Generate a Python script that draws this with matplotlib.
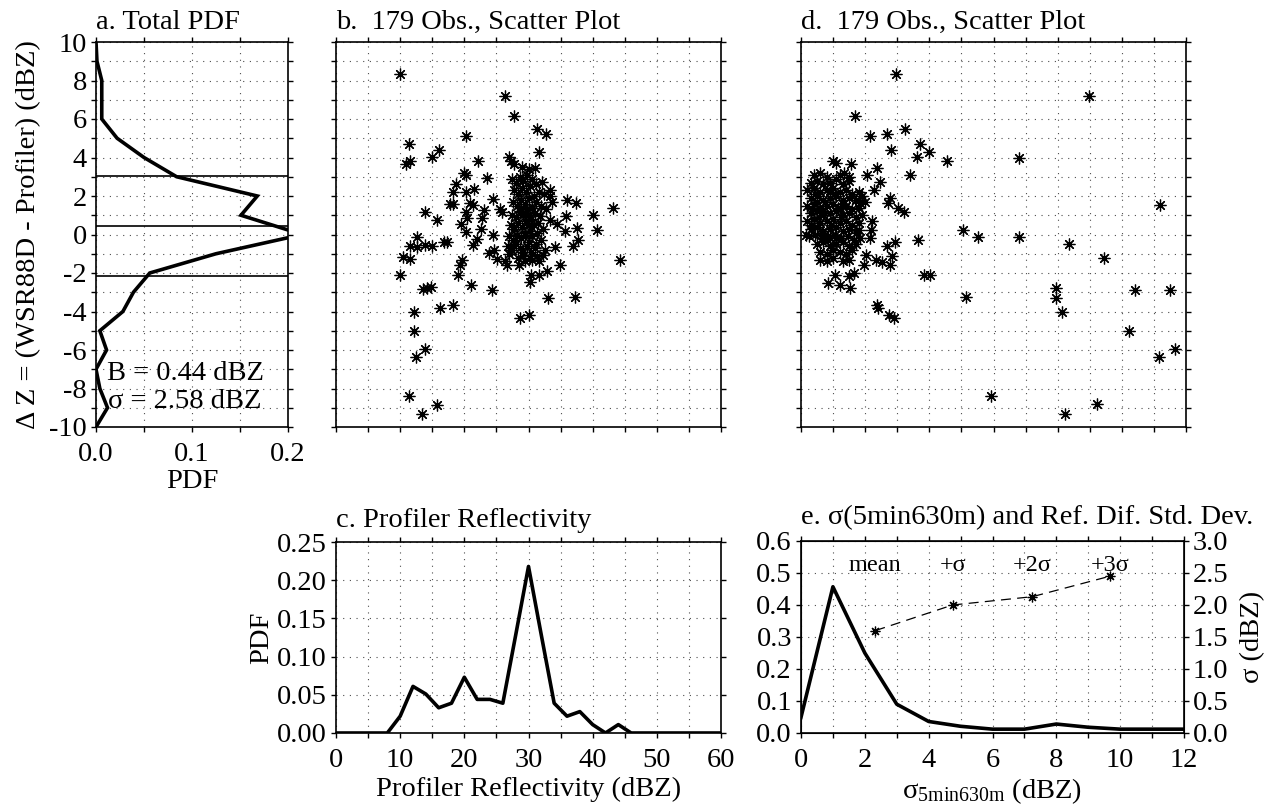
import matplotlib
matplotlib.use('Agg')
import matplotlib.pyplot as plt
from matplotlib.ticker import MultipleLocator, FuncFormatter

plt.rcParams['font.family'] = ['Liberation Serif', 'DejaVu Serif']
plt.rcParams['mathtext.fontset'] = 'custom'
plt.rcParams['mathtext.rm'] = 'Liberation Serif'
plt.rcParams['mathtext.default'] = 'rm'

# ---------------- data ----------------
# a. total PDF of reflectivity difference
dz_bins = [-10, -9, -8, -7, -6, -5, -4, -3, -2, -1, 0, 1, 2, 3, 4, 5, 6, 7, 8, 9, 10]
pdf_dz = [0.0, 0.012, 0.004, 0.0, 0.011, 0.004, 0.028, 0.039, 0.056, 0.125, 0.215,
          0.151, 0.168, 0.084, 0.05, 0.022, 0.006, 0.006, 0.006, 0.001, 0.0]
bias = 0.44
sigma = 2.58
bias_lines = [bias + sigma, bias, bias - sigma]

# c. profiler reflectivity PDF
refl_bins = [0, 2, 4, 6, 8, 10, 12, 14, 16, 18, 20, 22, 24, 26, 28, 30, 32, 34, 36, 38, 40,
             42, 44, 46, 48, 50, 52, 54, 56, 58, 60]
pdf_refl = [0, 0, 0, 0, 0, 0.022, 0.061, 0.051, 0.033, 0.039, 0.073, 0.044, 0.044, 0.039,
            0.128, 0.218, 0.128, 0.039, 0.022, 0.028, 0.011, 0.0, 0.011, 0, 0, 0, 0, 0, 0, 0, 0]

# e. PDF of sigma_5min630m and std dev of reflectivity difference
sig_bins = [0, 1, 2, 3, 4, 5, 6, 7, 8, 9, 10, 11, 12]
pdf_sig = [0.049, 0.457, 0.25, 0.09, 0.036, 0.021, 0.012, 0.012, 0.028, 0.018, 0.012, 0.012, 0.012]
sig_thresh = [2.33, 4.75, 7.25, 9.68]
std_dev = [1.60, 2.00, 2.13, 2.45]
thresh_labels = ['mean', '+σ', '+2σ', '+3σ']

# b. scatter: profiler reflectivity vs delta Z
b_refl = [10.0, 26.3, 27.8, 31.4, 32.7, 20.2, 11.3, 31.6, 16.1, 14.9, 10.9, 11.6, 22.2, 26.9, 27.2,
          27.7, 31.0, 19.9, 20.3, 23.5, 18.7, 18.3, 20.2, 21.5, 17.8, 18.3, 20.9, 21.3, 24.5, 25.6,
          25.8, 23.0, 20.2, 20.4, 13.9, 15.7, 19.5, 22.7, 22.6, 20.3, 24.4, 12.6, 11.6, 12.6, 13.9,
          15.0, 16.8, 17.3, 21.4, 21.9, 10.5, 11.6, 10.0, 19.6, 19.4, 19.0, 21.1, 24.3, 13.6, 14.2,
          14.8, 16.2, 18.2, 12.1, 12.1, 13.9, 12.4, 11.3, 15.7, 13.4, 28.6, 30.1, 33.1, 37.2, 34.9,
          44.3, 43.1, 40.0, 40.7, 36.0, 37.4, 35.8, 37.5, 35.7, 37.7, 36.9, 34.2, 32.9, 30.4, 31.6,
          30.3, 28.5, 29.1, 26.6, 26.4, 25.1, 24.6, 23.9, 27.3, 30.6, 31.3, 32.2, 33.4, 33.3, 33.7,
          32.1, 31.8, 33.4, 34.4,
          27.5, 28.0, 28.6, 29.2, 29.8, 30.5, 31.2,
          27.8, 28.4, 29.0, 29.6, 30.2, 30.8, 31.6, 32.4,
          27.6, 28.2, 28.8, 29.4, 30.0, 30.6, 31.2, 32.0, 32.8,
          27.4, 28.0, 28.6, 29.2, 29.8, 30.4, 31.0, 31.5,
          27.2, 27.8, 28.4, 29.0, 29.6, 30.2, 30.8, 31.4, 32.2,
          27.0, 27.6, 28.2, 28.8, 29.4, 30.0, 30.6, 31.2, 32.0,
          26.8, 27.4, 28.0, 28.6, 29.2, 29.8, 30.4, 31.0, 32.6,
          28.4, 29.5, 30.2, 31.6, 27.0,
          29.0, 30.0, 29.5, 29.9, 28.9, 30.1]
b_dz = [8.36, 7.18, 6.17, 5.48, 5.24, 5.10, 4.72, 4.29, 4.41, 4.03, 3.68, 3.82, 3.82, 4.03, 3.80,
        3.66, 3.45, 3.19, 3.11, 2.94, 2.64, 2.21, 2.21, 2.38, 1.60, 1.60, 1.64, 1.55, 1.84, 1.32,
        1.17, 1.29, 1.17, 0.86, 1.17, 0.74, 0.56, 0.86, 0.29, 0.13, -0.04, -0.13, -0.61, -0.65, -0.53,
        -0.61, -0.41, -0.39, -0.56, -0.23, -1.19, -1.27, -2.09, -1.31, -1.57, -2.10, -2.61, -2.87, -2.81, -2.78,
        -2.73, -3.80, -3.65, -4.04, -5.00, -5.95, -6.36, -8.41, -8.84, -9.32, -4.34, -4.16, -3.30, -3.26, -1.60,
        -1.31, 1.38, 1.00, 0.22, 1.81, 1.64, 0.94, 0.34, 0.20, -0.27, -0.58, -0.65, -1.91, -2.09, -2.09,
        -2.48, -1.57, -1.13, -1.60, -1.39, -1.26, -0.79, -0.96, -0.79, -1.31, -1.13, -1.05, 2.33, 1.98, 1.69,
        2.71, 0.94, 0.77, 0.56,
        2.9, 2.7, 3.0, 2.8, 3.1, 2.9, 2.6,
        2.3, 2.1, 2.4, 2.2, 2.5, 2.0, 2.2, 2.1,
        1.7, 1.5, 1.8, 1.6, 1.9, 1.4, 1.7, 1.5, 1.3,
        1.0, 0.9, 1.2, 1.0, 1.3, 0.8, 1.1, 0.6,
        0.5, 0.3, 0.6, 0.4, 0.7, 0.2, 0.5, 0.1, 0.3,
        -0.1, -0.3, 0.0, -0.2, 0.1, -0.4, -0.1, -0.5, -0.3,
        -0.6, -0.8, -0.5, -0.7, -0.9, -0.6, -0.9, -0.7, -0.8,
        -1.2, -1.4, -1.2, -1.4, -1.0,
        3.5, 3.4, 0.0, 1.0, 1.4, 0.5]

# d. scatter: sigma_5min630m vs delta Z
d_sig = [2.96, 8.99, 1.69, 3.23, 2.68, 2.16, 3.70, 2.82, 3.98, 3.62, 4.55, 6.81, 3.39, 11.2, 5.04,
         5.52, 6.81, 8.36, 9.43, 10.42, 11.51, 7.95, 7.95, 8.14, 5.14, 10.21, 11.17, 11.65, 5.92, 9.23,
         8.24, 3.65, 3.82, 4.01, 2.37, 2.39, 2.73, 2.89, 2.94, 2.68, 2.84, 2.78, 2.52, 2.35, 2.76,
         2.71, 3.01, 3.22, 2.37, 2.45, 2.29, 2.06, 2.01, 1.57, 0.99, 1.09, 1.33, 2.21, 2.19, 2.16,
         0.83, 1.23, 1.54, 1.05, 1.49, 1.97, 1.64, 1.85, 1.80, 2.04,
         0.4, 0.6, 0.8, 1.2, 1.5,
         0.3, 0.5, 0.7, 0.9, 1.1, 1.3, 1.5,
         0.2, 0.4, 0.6, 0.8, 1.0, 1.2, 1.4, 1.6, 1.8,
         0.3, 0.5, 0.7, 0.9, 1.1, 1.3, 1.5, 1.7, 1.9,
         0.2, 0.4, 0.6, 0.8, 1.0, 1.2, 1.4, 1.6, 1.8,
         0.3, 0.5, 0.7, 0.9, 1.1, 1.3, 1.5, 1.7, 1.9,
         0.2, 0.4, 0.6, 0.8, 1.0, 1.2, 1.4, 1.6, 1.8,
         0.15, 0.3, 0.5, 0.7, 0.9, 1.1, 1.3, 1.5, 1.7,
         0.25, 0.45, 0.65, 0.85, 1.05, 1.25, 1.45, 1.65, 1.85,
         0.5, 0.7, 0.9, 1.1, 1.3, 1.5, 1.7,
         0.6, 0.8, 1.0, 1.2, 1.4, 1.6,
         0.6, 0.8, 1.0, 1.3, 1.5,
         0.35, 0.55, 0.75, 0.95, 1.15, 0.45, 0.65, 0.85, 1.05, 1.25, 0.3, 0.5, 0.7, 0.9, 1.1, 1.3]
d_dz = [8.36, 7.18, 6.17, 5.48, 5.24, 5.10, 4.72, 4.37, 4.29, 4.03, 3.82, 3.97, 3.11, 1.55, 0.22,
        -0.15, -0.15, -0.49, -1.22, -2.87, -2.87, -2.78, -3.30, -4.03, -3.26, -5.00, -6.36, -5.95, -8.41, -8.81,
        -9.32, -0.30, -2.09, -2.09, -3.65, -3.82, -4.16, -4.34, -0.39, -0.58, -1.10, -1.60, -1.43, -1.31, 1.90,
        1.64, 1.38, 1.17, 3.45, 2.71, 2.33, 3.07, 1.69, 3.68, 3.84, 3.71, 3.19, 0.68, 0.25, -0.18,
        -2.52, -2.64, -2.78, -2.09, -2.14, -1.60, -2.00, 1.64, 0.25, -1.05,
        3.1, 3.2, 3.0, 3.1, 3.0,
        2.7, 2.8, 2.6, 2.7, 2.9, 2.6, 2.8,
        2.3, 2.4, 2.2, 2.3, 2.4, 2.2, 2.3, 2.1, 2.2,
        1.9, 2.0, 1.8, 1.9, 2.0, 1.8, 1.9, 1.8, 2.0,
        1.5, 1.6, 1.4, 1.5, 1.6, 1.4, 1.5, 1.3, 1.4,
        1.1, 1.2, 1.0, 1.1, 1.2, 1.0, 1.1, 0.9, 1.0,
        0.7, 0.8, 0.6, 0.7, 0.8, 0.6, 0.7, 0.5, 0.6,
        0.0, 0.3, 0.4, 0.2, 0.3, 0.4, 0.2, 0.3, 0.1,
        -0.1, 0.0, -0.2, -0.1, 0.0, -0.2, -0.1, -0.3, -0.2,
        -0.5, -0.4, -0.6, -0.5, -0.4, -0.6, -0.5,
        -0.9, -1.0, -0.8, -0.9, -1.0, -0.8,
        -1.3, -1.4, -1.2, -1.4, -1.3,
        1.3, 0.9, 1.7, 0.5, 1.4, 2.1, 0.1, -0.3, 2.1, 0.9, 0.5, 1.7, 1.2, 2.2, -0.2, 1.6]

# ---------------- figure ----------------
W, H = 1266, 810
fig = plt.figure(figsize=(W / 100, H / 100), dpi=100)


def rect(x0, y0, x1, y1):
    return [x0 / W, 1 - y1 / H, (x1 - x0) / W, (y1 - y0) / H]


FS = 20.5       # labels / titles
FT = 20.5       # tick labels
GRID = dict(linestyle=(0, (1, 5)), color='0.3', linewidth=0.8)
AST = (8, 2, 0)


def style(ax, right=True):
    ax.tick_params(which='both', direction='out', length=3.5, width=1.0,
                   top=True, right=right, labelsize=FT)
    ax.tick_params(axis='x', pad=7)
    ax.tick_params(axis='y', pad=3)
    for s in ax.spines.values():
        s.set_linewidth(1.2)
    ax.grid(True, **GRID)
    ax.set_axisbelow(True)


def every_other(fmt, step):
    def f(v, p):
        k = v / step
        if abs(k - round(k)) < 1e-6:
            return fmt.format(v)
        return ''
    return FuncFormatter(f)


# ---- a ----
ax_a = fig.add_axes(rect(96, 42, 288, 427))
ax_a.plot(pdf_dz, dz_bins, color='black', lw=2.6, solid_joinstyle='miter')
for yl in bias_lines:
    ax_a.axhline(yl, color='black', lw=1.2)
ax_a.set_xlim(0, 0.2)
ax_a.set_ylim(-10, 10)
ax_a.xaxis.set_major_locator(MultipleLocator(0.05))
ax_a.yaxis.set_major_locator(MultipleLocator(1))
ax_a.xaxis.set_major_formatter(every_other('{:.1f}', 0.1))
ax_a.yaxis.set_major_formatter(every_other('{:.0f}', 2))
style(ax_a)
ax_a.set_xlabel('PDF', fontsize=FS, labelpad=2)
ax_a.set_ylabel('Δ Z = (WSR88D - Profiler) (dBZ)', fontsize=FS, labelpad=6)
ax_a.set_title('a. Total PDF', loc='left', fontsize=FS, pad=9.5)
ax_a.text(0.0115, -7.2, 'B = %.2f dBZ' % bias, fontsize=FS, ha='left', va='center')
ax_a.text(0.012, -8.7, 'σ = %.2f dBZ' % sigma, fontsize=FS, ha='left', va='center')

# ---- b ----
ax_b = fig.add_axes(rect(336, 42, 721, 427))
ax_b.plot(b_refl, b_dz, linestyle='none', marker=AST, ms=8.5, mew=0.9, color='black')
ax_b.set_xlim(0, 60)
ax_b.set_ylim(-10, 10)
ax_b.xaxis.set_major_locator(MultipleLocator(5))
ax_b.yaxis.set_major_locator(MultipleLocator(1))
ax_b.set_xticklabels([])
ax_b.set_yticklabels([])
style(ax_b)
ax_b.set_title('b.  179 Obs., Scatter Plot', loc='left', fontsize=FS, pad=9.5)

# ---- d ----
ax_d = fig.add_axes(rect(801, 42, 1186, 427))
ax_d.plot(d_sig, d_dz, linestyle='none', marker=AST, ms=8.5, mew=0.9, color='black')
ax_d.set_xlim(0, 12)
ax_d.set_ylim(-10, 10)
ax_d.xaxis.set_major_locator(MultipleLocator(1))
ax_d.yaxis.set_major_locator(MultipleLocator(1))
ax_d.set_xticklabels([])
ax_d.set_yticklabels([])
style(ax_d)
ax_d.set_title('d.  179 Obs., Scatter Plot', loc='left', fontsize=FS, pad=9.5)

# ---- c ----
ax_c = fig.add_axes(rect(336, 542, 721, 733))
ax_c.plot(refl_bins, pdf_refl, color='black', lw=2.6)
ax_c.set_xlim(0, 60)
ax_c.set_ylim(0, 0.25)
ax_c.xaxis.set_major_locator(MultipleLocator(5))
ax_c.yaxis.set_major_locator(MultipleLocator(0.05))
ax_c.xaxis.set_major_formatter(every_other('{:.0f}', 10))
ax_c.yaxis.set_major_formatter(FuncFormatter(lambda v, p: '%.2f' % v))
style(ax_c)
ax_c.set_xlabel('Profiler Reflectivity (dBZ)', fontsize=FS, labelpad=3)
ax_c.set_ylabel('PDF', fontsize=FS, labelpad=2)
ax_c.set_title('c. Profiler Reflectivity', loc='left', fontsize=FS, pad=10.5)

# ---- e ----
ax_e = fig.add_axes(rect(801, 541, 1184, 733))
ax_e.plot(sig_bins, pdf_sig, color='black', lw=2.6)
ax_e.set_xlim(0, 12)
ax_e.set_ylim(0, 0.6)
ax_e.xaxis.set_major_locator(MultipleLocator(1))
ax_e.yaxis.set_major_locator(MultipleLocator(0.1))
ax_e.xaxis.set_major_formatter(every_other('{:.0f}', 2))
ax_e.yaxis.set_major_formatter(FuncFormatter(lambda v, p: '%.1f' % v))
style(ax_e, right=False)
ax_e.set_xlabel('σ$_{\\mathrm{5min630m}}$ (dBZ)', fontsize=FS, labelpad=3)
ax_e.set_title('e. σ(5min630m) and Ref. Dif. Std. Dev.', loc='left', fontsize=FS, pad=12)

ax_e2 = ax_e.twinx()
ax_e2.plot(sig_thresh, std_dev, color='black', lw=0.9, dashes=(8, 5),
           marker=AST, ms=7, mew=0.9)
for xs, lab in zip(sig_thresh, thresh_labels):
    ax_e2.text(xs, 2.62, lab, fontsize=17.5, ha='center', va='center')
ax_e2.set_ylim(0, 3.0)
ax_e2.yaxis.set_major_locator(MultipleLocator(0.5))
ax_e2.yaxis.set_major_formatter(FuncFormatter(lambda v, p: '%.1f' % v))
ax_e2.tick_params(which='both', direction='out', length=3.5, width=1.0, labelsize=FT, pad=3)
ax_e2.set_ylabel('σ (dBZ)', fontsize=FS, labelpad=8)

fig.savefig('out.png', dpi=100)
